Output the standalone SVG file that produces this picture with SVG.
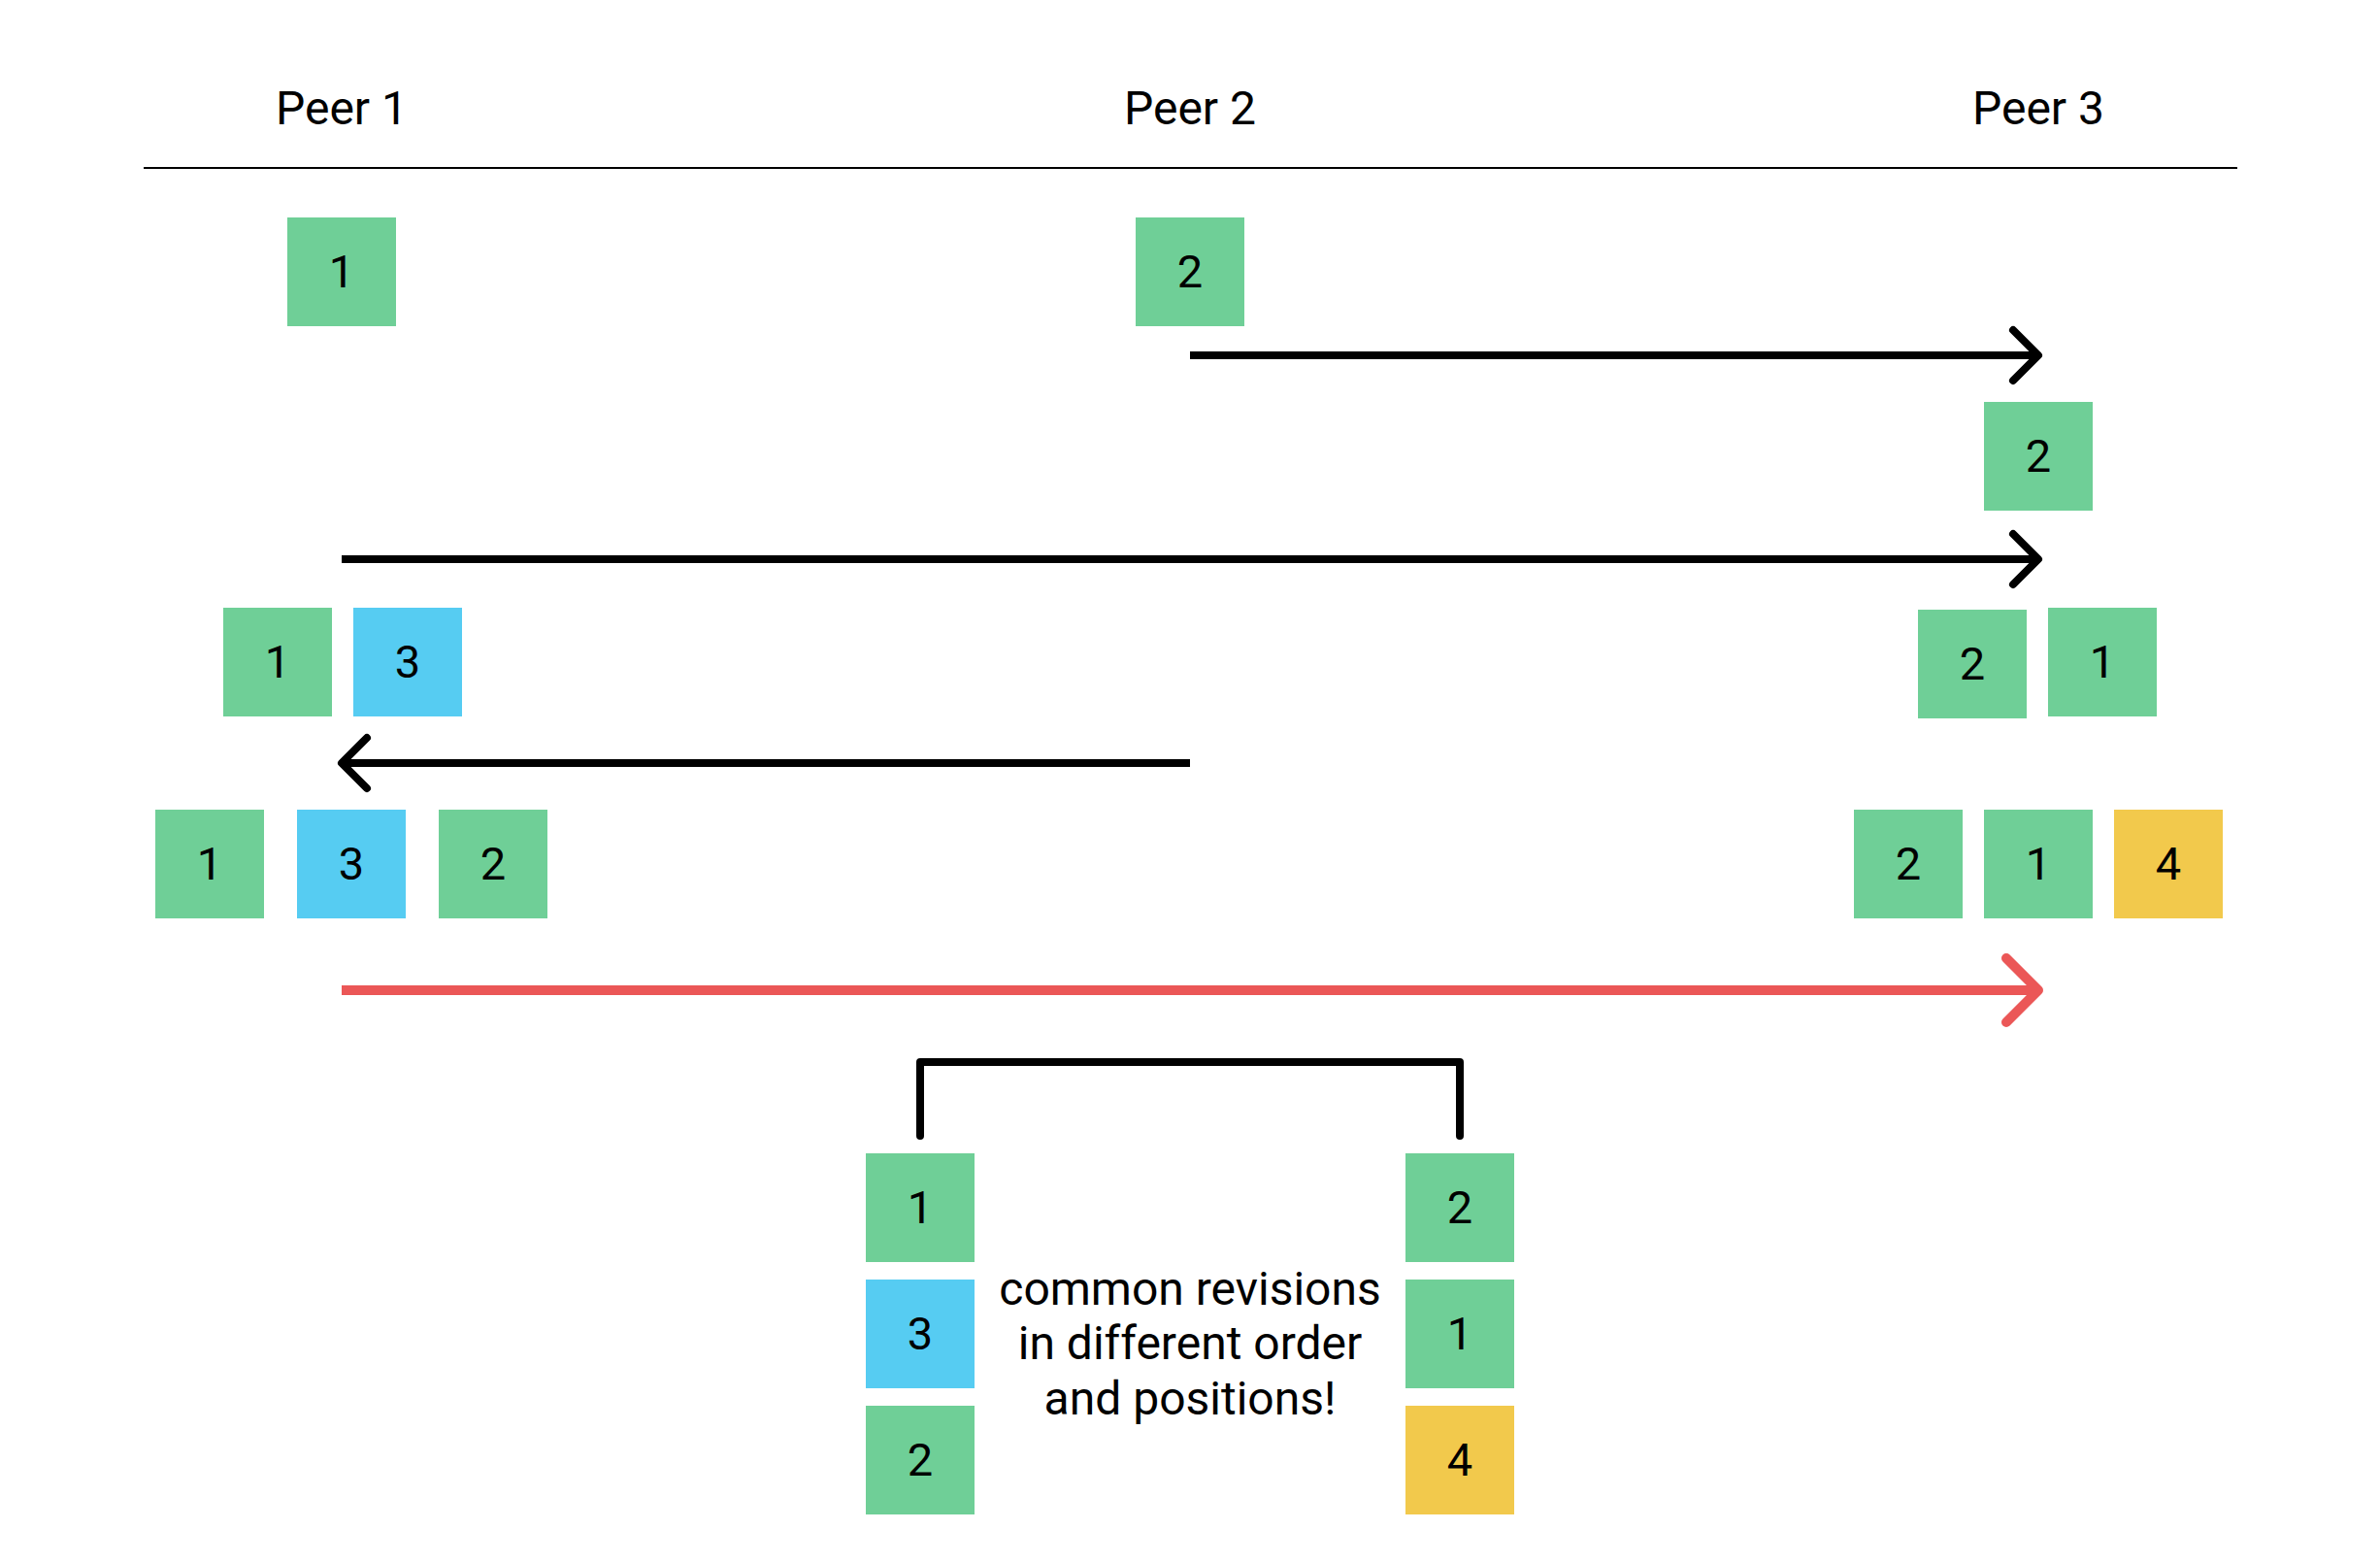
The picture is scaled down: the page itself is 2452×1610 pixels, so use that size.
<svg xmlns="http://www.w3.org/2000/svg" width="2452" height="1610" viewBox="0 0 2452 1610">
<style>
text{font-family:Roboto,"Liberation Sans",sans-serif;fill:#000;text-anchor:middle}
.lbl{font-size:48px}
.num{font-size:47px}
.g{fill:#6fcf97}
.b{fill:#56ccf2}
.y{fill:#f2c94c}
.ln{fill:none;stroke:#000;stroke-width:8;stroke-linecap:butt}
.hd{fill:none;stroke:#000;stroke-width:8;stroke-linecap:round;stroke-linejoin:round}
.rln{fill:none;stroke:#eb5757;stroke-width:10;stroke-linecap:butt}
.rhd{fill:none;stroke:#eb5757;stroke-width:10;stroke-linecap:round;stroke-linejoin:round}
</style>
<rect width="2452" height="1610" fill="#fff"/>
<g id="header">
<text class="lbl" x="352" y="128">Peer 1</text>
<text class="lbl" x="1226" y="128">Peer 2</text>
<text class="lbl" x="2100" y="128">Peer 3</text>
<line x1="148" y1="173" x2="2305" y2="173" stroke="#000" stroke-width="2"/>
</g>
<g id="connectors">
<line class="ln" x1="1226" y1="366" x2="2098" y2="366"/>
<polyline class="hd" points="2074,340 2100,366 2074,392"/>
<line class="ln" x1="352" y1="576" x2="2098" y2="576"/>
<polyline class="hd" points="2074,550 2100,576 2074,602"/>
<line class="ln" x1="1226" y1="786" x2="354" y2="786"/>
<polyline class="hd" points="378,760 352,786 378,812"/>
<line class="rln" x1="352" y1="1020" x2="2098" y2="1020"/>
<polyline class="rhd" points="2067,987 2100,1020 2067,1053"/>
<path class="hd" d="M948,1170 V1094 H1504 V1170"/>
</g>
<g id="r1-p1-1"><rect class="g" x="296" y="224" width="112" height="112"/><text class="num" x="352" y="295.5">1</text></g>
<g id="r1-p2-2"><rect class="g" x="1170" y="224" width="112" height="112"/><text class="num" x="1226" y="295.5">2</text></g>
<g id="r2-p3-2"><rect class="g" x="2044" y="414" width="112" height="112"/><text class="num" x="2100" y="485.5">2</text></g>
<g id="r3-p1-1"><rect class="g" x="230" y="626" width="112" height="112"/><text class="num" x="286" y="697.5">1</text></g>
<g id="r3-p1-3"><rect class="b" x="364" y="626" width="112" height="112"/><text class="num" x="420" y="697.5">3</text></g>
<g id="r3-p3-2"><rect class="g" x="1976" y="628" width="112" height="112"/><text class="num" x="2032" y="699.5">2</text></g>
<g id="r3-p3-1"><rect class="g" x="2110" y="626" width="112" height="112"/><text class="num" x="2166" y="697.5">1</text></g>
<g id="r4-p1-1"><rect class="g" x="160" y="834" width="112" height="112"/><text class="num" x="216" y="905.5">1</text></g>
<g id="r4-p1-3"><rect class="b" x="306" y="834" width="112" height="112"/><text class="num" x="362" y="905.5">3</text></g>
<g id="r4-p1-2"><rect class="g" x="452" y="834" width="112" height="112"/><text class="num" x="508" y="905.5">2</text></g>
<g id="r4-p3-2"><rect class="g" x="1910" y="834" width="112" height="112"/><text class="num" x="1966" y="905.5">2</text></g>
<g id="r4-p3-1"><rect class="g" x="2044" y="834" width="112" height="112"/><text class="num" x="2100" y="905.5">1</text></g>
<g id="r4-p3-4"><rect class="y" x="2178" y="834" width="112" height="112"/><text class="num" x="2234" y="905.5">4</text></g>
<g id="cmp-l-1"><rect class="g" x="892" y="1188" width="112" height="112"/><text class="num" x="948" y="1259.5">1</text></g>
<g id="cmp-l-3"><rect class="b" x="892" y="1318" width="112" height="112"/><text class="num" x="948" y="1389.5">3</text></g>
<g id="cmp-l-2"><rect class="g" x="892" y="1448" width="112" height="112"/><text class="num" x="948" y="1519.5">2</text></g>
<g id="cmp-r-2"><rect class="g" x="1448" y="1188" width="112" height="112"/><text class="num" x="1504" y="1259.5">2</text></g>
<g id="cmp-r-1"><rect class="g" x="1448" y="1318" width="112" height="112"/><text class="num" x="1504" y="1389.5">1</text></g>
<g id="cmp-r-4"><rect class="y" x="1448" y="1448" width="112" height="112"/><text class="num" x="1504" y="1519.5">4</text></g>
<g id="note">
<text class="lbl" x="1226" y="1344">common revisions</text>
<text class="lbl" x="1226" y="1400">in different order</text>
<text class="lbl" x="1226" y="1457">and positions!</text>
</g>
</svg>
